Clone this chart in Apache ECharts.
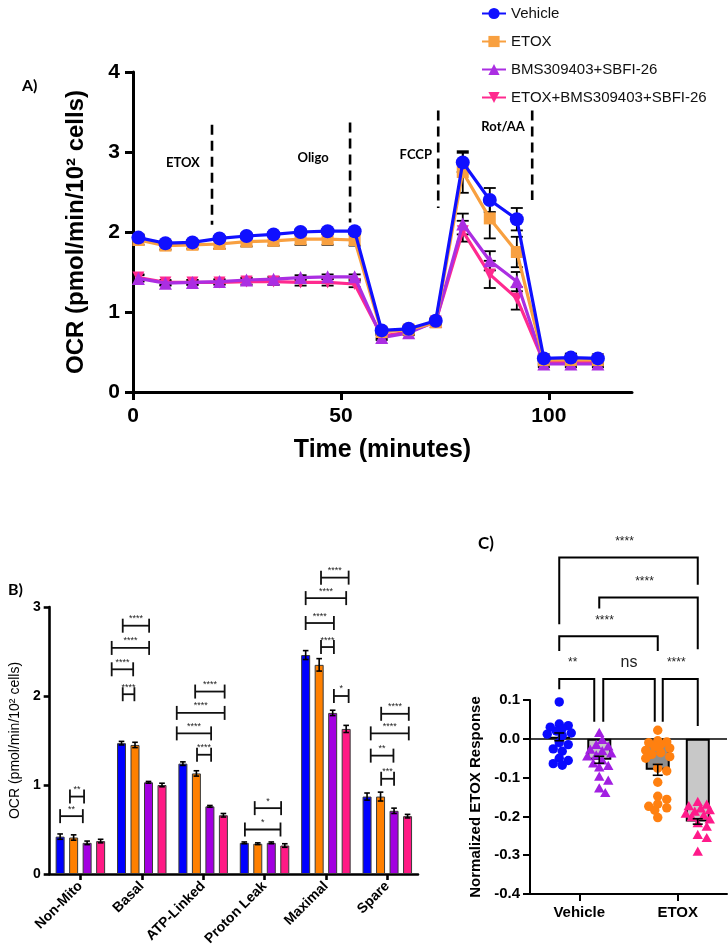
<!DOCTYPE html>
<html>
<head>
<meta charset="utf-8">
<script src="https://cdn.jsdelivr.net/npm/echarts@6/dist/echarts.min.js"></script>
<style>html,body{margin:0;padding:0;background:#fff}#chart{width:728px;height:949px}</style>
</head>
<body>
<div id="chart"></div>
<script>
// ---------------- Panel A data ----------------
const timeMinutes = [1.3, 7.8, 14.3, 20.8, 27.3, 33.8, 40.3, 46.8, 53.3, 59.8, 66.3, 72.8, 79.3, 85.8, 92.3, 98.8, 105.3, 111.8];
const vehicleOCR    = [1.93, 1.86, 1.87, 1.92, 1.95, 1.97, 2.00, 2.01, 2.01, 0.77, 0.79, 0.89, 2.87, 2.40, 2.16, 0.42, 0.43, 0.42];
const vehicleErr    = [0.04, 0.03, 0.03, 0.03, 0.03, 0.03, 0.03, 0.03, 0.03, 0.03, 0.03, 0.03, 0.12, 0.15, 0.14, 0.05, 0.05, 0.05];
const etoxOCR       = [1.90, 1.83, 1.84, 1.85, 1.88, 1.89, 1.91, 1.91, 1.90, 0.75, 0.78, 0.87, 2.75, 2.17, 1.75, 0.40, 0.40, 0.40];
const etoxErr       = [0.06, 0.05, 0.05, 0.06, 0.06, 0.06, 0.07, 0.07, 0.07, 0.03, 0.03, 0.03, 0.26, 0.25, 0.19, 0.05, 0.05, 0.05];
const bmsOCR        = [1.42, 1.36, 1.37, 1.38, 1.40, 1.41, 1.43, 1.44, 1.44, 0.68, 0.74, 0.88, 2.10, 1.64, 1.38, 0.35, 0.35, 0.35];
const bmsErr        = [0.04, 0.03, 0.03, 0.03, 0.03, 0.03, 0.03, 0.03, 0.03, 0.03, 0.03, 0.03, 0.13, 0.12, 0.12, 0.04, 0.04, 0.04];
const etoxBmsOCR    = [1.43, 1.37, 1.37, 1.37, 1.38, 1.38, 1.37, 1.37, 1.35, 0.70, 0.75, 0.88, 2.01, 1.47, 1.17, 0.37, 0.37, 0.37];
const etoxBmsErr    = [0.04, 0.03, 0.03, 0.03, 0.04, 0.04, 0.04, 0.04, 0.04, 0.03, 0.03, 0.03, 0.13, 0.17, 0.14, 0.04, 0.04, 0.04];
const seriesNames   = ['Vehicle', 'ETOX', 'BMS309403+SBFI-26', 'ETOX+BMS309403+SBFI-26'];
const xTicksA = [0, 50, 100];
// injection markers: time, dashed-line top & bottom (OCR units), label, label position
const injections = [
  {t: 19.0, top: 3.34, bottom: 2.09, label: 'ETOX',   lx: 12.0, ly: 2.86},
  {t: 52.2, top: 3.37, bottom: 2.12, label: 'Oligo',  lx: 43.3, ly: 2.93},
  {t: 73.4, top: 3.52, bottom: 2.30, label: 'FCCP',   lx: 68.0, ly: 2.96},
  {t: 96.0, top: 3.52, bottom: 2.40, label: 'Rot/AA', lx: 89.0, ly: 3.32}
];

// ---------------- Panel B data ----------------
const bCategories  = ['Non-Mito', 'Basal', 'ATP-Linked', 'Proton Leak', 'Maximal', 'Spare'];
const bVehicle     = [0.42, 1.47, 1.24, 0.35, 2.46, 0.87];
const bVehicleErr  = [0.03, 0.02, 0.02, 0.01, 0.05, 0.04];
const bEtox        = [0.41, 1.45, 1.13, 0.34, 2.35, 0.87];
const bEtoxErr     = [0.03, 0.03, 0.03, 0.01, 0.07, 0.05];
const bBms         = [0.35, 1.03, 0.76, 0.35, 1.81, 0.71];
const bBmsErr      = [0.02, 0.01, 0.01, 0.01, 0.03, 0.03];
const bEtoxBms     = [0.37, 1.00, 0.66, 0.32, 1.63, 0.65];
const bEtoxBmsErr  = [0.02, 0.02, 0.02, 0.02, 0.04, 0.02];
// significance brackets: [category, left (fraction of category), right, height (OCR), label]
const bBrackets = [
  [0, -0.33, 0.04, 0.65, '**'], [0, -0.17, 0.06, 0.87, '**'],
  [1, -0.31, 0.12, 2.79, '****'], [1, -0.49, 0.12, 2.54, '****'], [1, -0.49, -0.14, 2.30, '****'], [1, -0.31, -0.12, 2.02, '****'],
  [2, -0.13, 0.35, 2.05, '****'], [2, -0.43, 0.35, 1.81, '****'], [2, -0.43, 0.13, 1.58, '****'], [2, -0.10, 0.13, 1.34, '****'],
  [3, -0.16, 0.27, 0.74, '*'], [3, -0.32, 0.26, 0.50, '*'],
  [4, -0.08, 0.37, 3.33, '****'], [4, -0.33, 0.33, 3.10, '****'], [4, -0.33, 0.13, 2.82, '****'], [4, -0.08, 0.13, 2.55, '****'], [4, 0.13, 0.37, 2.00, '*'],
  [5, -0.10, 0.35, 1.80, '****'], [5, -0.27, 0.35, 1.58, '****'], [5, -0.27, 0.10, 1.33, '**'], [5, -0.10, 0.11, 1.07, '***']
];
const yTicksB = [0, 1, 2, 3];

// ---------------- Panel C data ----------------
const cCategories   = ['Vehicle', 'ETOX'];
const cVehiclePts   = [0.095, 0.038, 0.034, 0.030, 0.026, 0.020, 0.015, 0.012, 0.008, -0.010, -0.015, -0.026, -0.032, -0.050, -0.056, -0.064, -0.068];
const cBmsPts       = [0.013, -0.005, -0.018, -0.022, -0.030, -0.034, -0.040, -0.045, -0.048, -0.058, -0.066, -0.072, -0.076, -0.100, -0.110, -0.130, -0.142];
const cEtoxPts      = [0.022, -0.005, -0.008, -0.010, -0.015, -0.020, -0.024, -0.030, -0.036, -0.040, -0.046, -0.050, -0.076, -0.083, -0.112, -0.148, -0.156, -0.168, -0.174, -0.178, -0.184, -0.203];
const cEtoxBmsPts   = [-0.165, -0.172, -0.176, -0.182, -0.186, -0.190, -0.195, -0.200, -0.204, -0.210, -0.220, -0.229, -0.250, -0.258, -0.293];
const cMeans        = [0.005, -0.054, -0.080, -0.213];   // Vehicle, BMS, ETOX, ETOX+BMS
const cErr          = [0.010, 0.009, 0.014, 0.007];
// brackets: bars (0..3), bracket height, left/right leg ends (response units), label, small px nudges
const cBrackets = [
  {from: 0, to: 3, y: 0.467, legL: 0.295, legR: 0.397, label: '****', nl: 0, nr: 0},
  {from: 1, to: 3, y: 0.364, legL: 0.336, legR: 0.231, label: '****', nl: 0, nr: 0},
  {from: 0, to: 2, y: 0.264, legL: 0.226, legR: 0.226, label: '****', nl: 0, nr: 0},
  {from: 0, to: 1, y: 0.154, legL: 0.128, legR: 0.044, label: '**',   nl: 0, nr: -5},
  {from: 1, to: 2, y: 0.154, legL: 0.044, legR: 0.044, label: 'ns',   nl: 4, nr: -3},
  {from: 2, to: 3, y: 0.154, legL: 0.044, legR: 0.033, label: '****', nl: 5, nr: 0}
];

// ---------------- styles ----------------
const ARIAL = '"Liberation Sans", Arial, Helvetica, sans-serif';
const CALI = 'Lato, "Open Sans", sans-serif';
const colA = ['#1010ff', '#f8a040', '#ab2ee2', '#ff2a8f'];
const colB = ['#0000ff', '#ff8000', '#a200e0', '#ff1a85'];
const colC = ['#0a0aff', '#a21fe2', '#ff8010', '#ff1a8a'];
const B_BAR_W = 9, B_STEP = 13.5;
const C_BAR_W = 24, C_STEP = 40;
const downTri = 'path://M0,0L10,0L5,8.66Z';

const chart = echarts.init(document.getElementById('chart'), null, {renderer: 'canvas'});

function lineStyleObj(w) { return {color: '#000', width: w}; }

// ---- Panel A series ----
const aVals = [vehicleOCR, etoxOCR, bmsOCR, etoxBmsOCR];
const aErrs = [vehicleErr, etoxErr, bmsErr, etoxBmsErr];
const aSymbols = ['circle', 'rect', 'triangle', downTri];
const aSizes = [14, 12, 13, 12];
const aZ = [8, 7, 6, 5];
const series = [];
aVals.forEach((vals, k) => {
  series.push({
    type: 'line', name: seriesNames[k], xAxisIndex: 0, yAxisIndex: 0,
    data: timeMinutes.map((t, i) => [t, vals[i]]),
    symbol: aSymbols[k], symbolSize: aSizes[k], showAllSymbol: true,
    lineStyle: {color: colA[k], width: 3.2}, itemStyle: {color: colA[k]},
    z: aZ[k], emphasis: {disabled: true}, animation: false
  });
});
const aErrRows = [];
aVals.forEach((vals, k) => vals.forEach((v, i) => aErrRows.push([timeMinutes[i], v, aErrs[k][i]])));
function errGroup(x, yTop, yBot, cap, w) {
  const st = {stroke: '#000', lineWidth: w};
  return {type: 'group', children: [
    {type: 'line', shape: {x1: x, y1: yTop, x2: x, y2: yBot}, style: st},
    {type: 'line', shape: {x1: x - cap, y1: yTop, x2: x + cap, y2: yTop}, style: st},
    {type: 'line', shape: {x1: x - cap, y1: yBot, x2: x + cap, y2: yBot}, style: st}
  ]};
}
series.push({
  type: 'custom', name: 'A err', xAxisIndex: 0, yAxisIndex: 0, z: 3, data: aErrRows,
  renderItem(params, api) {
    const x = api.value(0), v = api.value(1), e = api.value(2);
    const top = api.coord([x, v + e]), bot = api.coord([x, v - e]);
    return errGroup(top[0], top[1], bot[1], 6, 1.8);
  }
});
series.push({
  type: 'custom', name: 'A injections', xAxisIndex: 0, yAxisIndex: 0, z: 4, clip: false,
  data: injections.map(d => [d.t, d.top]),
  renderItem(params, api) {
    const d = injections[params.dataIndex];
    const p1 = api.coord([d.t, d.top]), p2 = api.coord([d.t, d.bottom]), pl = api.coord([d.lx, d.ly]);
    return {type: 'group', children: [
      {type: 'line', shape: {x1: p1[0], y1: p1[1], x2: p2[0], y2: p2[1]}, style: {stroke: '#000', lineWidth: 2.6, lineDash: [10, 6]}},
      {type: 'text', x: pl[0], y: pl[1], style: {text: d.label, fill: '#000', font: 'bold 13px ' + CALI, align: 'center', verticalAlign: 'middle'}}
    ]};
  }
});

// ---- Panel B series ----
const bVals = [bVehicle, bEtox, bBms, bEtoxBms];
const bErrs = [bVehicleErr, bEtoxErr, bBmsErr, bEtoxBmsErr];
bVals.forEach((vals, k) => {
  series.push({
    type: 'bar', name: 'B ' + seriesNames[k], xAxisIndex: 1, yAxisIndex: 1, data: vals,
    barWidth: B_BAR_W, barGap: '50%', z: 2,
    itemStyle: {color: colB[k], borderColor: '#3a3a3a', borderWidth: 1}, emphasis: {disabled: true}
  });
});
const bErrRows = [];
bVals.forEach((vals, k) => vals.forEach((v, i) => bErrRows.push([i, v, bErrs[k][i], k])));
series.push({
  type: 'custom', name: 'B err', xAxisIndex: 1, yAxisIndex: 1, z: 4, data: bErrRows,
  renderItem(params, api) {
    const c = api.value(0), v = api.value(1), e = api.value(2), k = api.value(3);
    const top = api.coord([c, v + e]), bot = api.coord([c, v - e]);
    const x = top[0] + (k - 1.5) * B_STEP;
    return errGroup(x, top[1], bot[1], 2.8, 1.6);
  }
});
series.push({
  type: 'custom', name: 'B brackets', xAxisIndex: 1, yAxisIndex: 1, z: 4, clip: false,
  data: bBrackets.map(b => [b[0], b[3]]),
  renderItem(params, api) {
    const b = bBrackets[params.dataIndex];
    const c = api.coord([b[0], b[3]]);
    const w = api.size([1, 0])[0];
    const x1 = c[0] + b[1] * w, x2 = c[0] + b[2] * w, y = c[1];
    const st = {stroke: '#111', lineWidth: 1.8};
    const h = 7;
    return {type: 'group', children: [
      {type: 'line', shape: {x1, y1: y, x2, y2: y}, style: st},
      {type: 'line', shape: {x1, y1: y - h, x2: x1, y2: y + h}, style: st},
      {type: 'line', shape: {x1: x2, y1: y - h, x2, y2: y + h}, style: st},
      {type: 'text', x: (x1 + x2) / 2, y: y - 7, style: {text: b[4], fill: '#222', font: '9px ' + ARIAL, align: 'center', verticalAlign: 'middle'}}
    ]};
  }
});

// ---- Panel C series ----
const cBarCat = i => (i < 2 ? 0 : 1);
const cBarOffset = i => (i % 2 === 0 ? -1 : 1) * C_STEP / 2;
series.push({
  type: 'bar', name: 'C left', xAxisIndex: 2, yAxisIndex: 2, barWidth: C_BAR_W, barGap: '67%', z: 2,
  data: [
    {value: cMeans[0], itemStyle: {color: '#333'}},
    {value: cMeans[2], itemStyle: {color: '#8e8e8e'}}
  ],
  itemStyle: {borderColor: '#000', borderWidth: 2}, emphasis: {disabled: true},
  markLine: {silent: true, symbol: 'none', label: {show: false}, lineStyle: {color: '#000', width: 1.5, type: 'solid'}, data: [{yAxis: 0}]}
});
series.push({
  type: 'bar', name: 'C right', xAxisIndex: 2, yAxisIndex: 2, barWidth: C_BAR_W, barGap: '67%', z: 2,
  data: [
    {value: cMeans[1], itemStyle: {color: '#c8c8c8'}},
    {value: cMeans[3], itemStyle: {color: '#c8c8c8'}}
  ],
  itemStyle: {borderColor: '#000', borderWidth: 2}, emphasis: {disabled: true}
});
// beeswarm-style horizontal spread, limited to the bar width (overlap allowed)
function swarmOffsets(vals, ppu, minDist, step, maxOff) {
  const order = vals.map((v, i) => i).sort((a, b) => vals[b] - vals[a]);
  const placed = [], off = new Array(vals.length).fill(0);
  for (const i of order) {
    const y = vals[i] * ppu;
    let best = 0, bestScore = -1;
    for (let k = 0; k < 60; k++) {
      const cand = k === 0 ? 0 : (k % 2 ? 1 : -1) * Math.ceil(k / 2) * step;
      if (Math.abs(cand) > maxOff) break;
      const d = placed.length ? Math.min.apply(null, placed.map(p => Math.hypot(p.x - cand, p.y - y))) : Infinity;
      if (d >= minDist) { best = cand; break; }
      if (d > bestScore) { bestScore = d; best = cand; }
    }
    off[i] = best; placed.push({x: best, y});
  }
  return off;
}
function swarmSeries(name, vals, barIdx, color, shape) {
  const cache = {k: null, off: null};
  return {
    type: 'custom', name, xAxisIndex: 2, yAxisIndex: 2, z: 5, clip: false,
    data: vals.map(v => [cBarCat(barIdx), v]),
    renderItem(params, api) {
      const ppu = api.size([0, 1])[1];
      if (cache.k !== ppu) { cache.k = ppu; cache.off = swarmOffsets(vals, ppu, 7.5, 3, 12); }
      const c = api.coord([api.value(0), api.value(1)]);
      const x = c[0] + cBarOffset(barIdx) + cache.off[params.dataIndex], y = c[1];
      if (shape === 'circle') return {type: 'circle', shape: {cx: x, cy: y, r: 4.7}, style: {fill: color}};
      return {type: 'polygon', shape: {points: [[x, y - 6], [x - 5.2, y + 3.2], [x + 5.2, y + 3.2]]}, style: {fill: color}};
    }
  };
}
series.push(swarmSeries('C vehicle pts', cVehiclePts, 0, colC[0], 'circle'));
series.push(swarmSeries('C bms pts', cBmsPts, 1, colC[1], 'tri'));
series.push(swarmSeries('C etox pts', cEtoxPts, 2, colC[2], 'circle'));
series.push(swarmSeries('C etoxbms pts', cEtoxBmsPts, 3, colC[3], 'tri'));
series.push({
  type: 'custom', name: 'C err', xAxisIndex: 2, yAxisIndex: 2, z: 6,
  data: cMeans.map((m, i) => [cBarCat(i), m, cErr[i], i]),
  renderItem(params, api) {
    const c = api.value(0), v = api.value(1), e = api.value(2), i = api.value(3);
    const top = api.coord([c, v + e]), bot = api.coord([c, v - e]);
    return errGroup(top[0] + cBarOffset(i), top[1], bot[1], 5, 1.6);
  }
});
series.push({
  type: 'custom', name: 'C brackets', xAxisIndex: 2, yAxisIndex: 2, z: 6, clip: false,
  data: cBrackets.map(b => [0, b.y]),
  renderItem(params, api) {
    const b = cBrackets[params.dataIndex];
    const xOf = i => api.coord([cBarCat(i), 0])[0] + cBarOffset(i);
    const x1 = xOf(b.from) + b.nl, x2 = xOf(b.to) + b.nr;
    const y = api.coord([0, b.y])[1], yl = api.coord([0, b.legL])[1], yr = api.coord([0, b.legR])[1];
    const st = {stroke: '#000', lineWidth: 2};
    const isNs = b.label === 'ns';
    return {type: 'group', children: [
      {type: 'polyline', shape: {points: [[x1, yl], [x1, y], [x2, y], [x2, yr]]}, style: Object.assign({fill: null}, st)},
      {type: 'text', x: (x1 + x2) / 2 - (isNs ? 0 : 4), y: y - 16, style: {text: b.label, fill: '#222', font: (isNs ? '16px ' : '12px ') + ARIAL, align: 'center', verticalAlign: 'middle'}}
    ]};
  }
});

const axisBold = (size) => ({color: '#000', fontWeight: 'bold', fontSize: size, fontFamily: ARIAL});

const option = {
  animation: false,
  backgroundColor: '#fff',
  textStyle: {fontFamily: ARIAL},
  legend: {
    data: seriesNames, orient: 'vertical', left: 476, top: 1, itemWidth: 24, itemHeight: 14, itemGap: 13,
    textStyle: {fontSize: 15, color: '#111', fontFamily: ARIAL}, selectedMode: false
  },
  grid: [
    {left: 133, top: 72, width: 499, height: 320},
    {left: 43, top: 607, width: 375, height: 267},
    {left: 530, top: 700, width: 197, height: 194}
  ],
  xAxis: [
    {
      type: 'value', gridIndex: 0, min: 0, max: 120, interval: 50,
      name: 'Time (minutes)', nameLocation: 'middle', nameGap: 46,
      nameTextStyle: {fontSize: 25, fontWeight: 'bold', color: '#000', fontFamily: ARIAL},
      axisLine: {show: true, onZero: false, lineStyle: lineStyleObj(3)},
      axisTick: {show: true, length: 8, lineStyle: lineStyleObj(3), customValues: xTicksA},
      axisLabel: Object.assign(axisBold(21), {margin: 14, customValues: xTicksA}),
      splitLine: {show: false}
    },
    {
      type: 'category', gridIndex: 1, data: bCategories,
      axisLine: {show: true, lineStyle: lineStyleObj(2.6)},
      axisTick: {show: true, alignWithLabel: true, length: 6, lineStyle: lineStyleObj(2.6)},
      axisLabel: Object.assign(axisBold(14), {rotate: 45, margin: 10, interval: 0}),
      splitLine: {show: false}
    },
    {
      type: 'category', gridIndex: 2, data: cCategories,
      axisLine: {show: true, onZero: false, lineStyle: lineStyleObj(2)},
      axisTick: {show: true, alignWithLabel: true, length: 7, lineStyle: lineStyleObj(2)},
      axisLabel: Object.assign(axisBold(15), {margin: 11}),
      splitLine: {show: false}
    }
  ],
  yAxis: [
    {
      type: 'value', gridIndex: 0, min: 0, max: 4, interval: 1,
      name: 'OCR (pmol/min/10² cells)', nameLocation: 'middle', nameGap: 45,
      nameTextStyle: {fontSize: 24, fontWeight: 'bold', color: '#000', fontFamily: ARIAL},
      axisLine: {show: true, lineStyle: lineStyleObj(3)},
      axisTick: {show: true, length: 8, lineStyle: lineStyleObj(3)},
      axisLabel: Object.assign(axisBold(21), {margin: 13}),
      splitLine: {show: false}
    },
    {
      type: 'value', gridIndex: 1, min: 0, max: 3, interval: 1,
      name: 'OCR (pmol/min/10² cells)', nameLocation: 'middle', nameGap: 24,
      nameTextStyle: {fontSize: 14, color: '#000', fontFamily: ARIAL},
      axisLine: {show: true, lineStyle: lineStyleObj(2.6)},
      axisTick: {show: true, length: 6, lineStyle: lineStyleObj(2.6), customValues: yTicksB},
      axisLabel: Object.assign(axisBold(14), {margin: 9, customValues: yTicksB}),
      splitLine: {show: false}
    },
    {
      type: 'value', gridIndex: 2, min: -0.4, max: 0.1, interval: 0.1,
      name: 'Normalized ETOX Response', nameLocation: 'middle', nameGap: 47,
      nameTextStyle: {fontSize: 15, fontWeight: 'bold', color: '#000', fontFamily: ARIAL},
      axisLine: {show: true, lineStyle: lineStyleObj(2)},
      axisTick: {show: true, length: 7, lineStyle: lineStyleObj(2)},
      axisLabel: Object.assign(axisBold(15), {margin: 10, formatter: v => (Math.abs(v) < 1e-9 ? 0 : v).toFixed(1)}),
      splitLine: {show: false}
    }
  ],
  graphic: [
    {type: 'text', left: 22, top: 78, style: {text: 'A)', font: 'bold 16px ' + CALI, fill: '#000'}},
    {type: 'text', left: 8, top: 582, style: {text: 'B)', font: 'bold 16px ' + CALI, fill: '#000'}},
    {type: 'text', left: 478, top: 535, style: {text: 'C)', font: 'bold 17px ' + CALI, fill: '#000'}}
  ],
  series
};
chart.setOption(option);
</script>
</body>
</html>
